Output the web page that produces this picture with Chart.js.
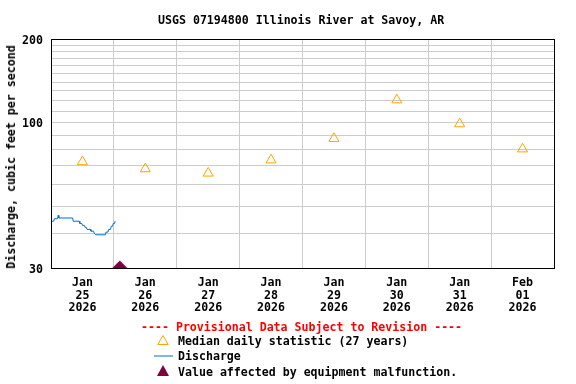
<!DOCTYPE html>
<html>
<head>
<meta charset="utf-8">
<script src="https://cdn.jsdelivr.net/npm/chart.js@4"></script>
<style>
    body { margin: 0; background: #fff; }
    #wrap { position: relative; width: 576px; height: 384px; background: #fff; overflow: hidden; }
    #chart { position: absolute; left: 0; top: 0; }
    .txt { position: absolute; font-family: 'DejaVu Sans Mono', monospace; font-weight: bold; font-size: 11.6px; color: #000; white-space: pre; line-height: 14px; }
    .sym { position: absolute; }
</style>
</head>
<body>
<div id="wrap">
    <canvas id="chart" width="576" height="384"></canvas>
    <div class="txt" style="left:158px;top:13px;">USGS 07194800 Illinois River at Savoy, AR</div>
    <div class="txt" style="left:11px;top:157px;transform:translate(-50%,-50%) rotate(-90deg);">Discharge, cubic feet per second</div>

    <div class="txt" style="left:141px;top:320px;color:#ff0000;">---- Provisional Data Subject to Revision ----</div>
    <svg class="sym" style="left:157px;top:335px;" width="12" height="10"><polygon points="6,0.5 11.2,9.5 0.8,9.5" fill="none" stroke="#ffa500" stroke-width="1"/></svg>
    <div class="txt" style="left:178px;top:334px;">Median daily statistic (27 years)</div>
    <svg class="sym" style="left:154px;top:355px;" width="19" height="2"><line x1="0" y1="1" x2="19" y2="1" stroke="#0070c8" stroke-width="1"/></svg>
    <div class="txt" style="left:178px;top:349px;">Discharge</div>
    <svg class="sym" style="left:157px;top:365px;" width="12" height="11"><polygon points="6,0 12,11 0,11" fill="#800040"/></svg>
    <div class="txt" style="left:178px;top:365px;">Value affected by equipment malfunction.</div>
</div>
<script>
// x axis is hours after Jan 25 2026 00:00
const tickMonths = ['Jan', 'Jan', 'Jan', 'Jan', 'Jan', 'Jan', 'Jan', 'Feb'];
const tickDays = ['25', '26', '27', '28', '29', '30', '31', '01'];
const tickYears = ['2026', '2026', '2026', '2026', '2026', '2026', '2026', '2026'];

// median daily statistic, plotted at noon of each day
const medianHours = [12, 36, 60, 84, 108, 132, 156, 180];
const medianValues = [72.3, 68.2, 65.8, 73.4, 87.7, 120.7, 99.0, 80.4];

// discharge
const dischargeHours = [0, 0.5, 1.0, 1.25, 2.5, 2.75, 3.0, 8.25, 8.5, 10.75, 11.0, 11.75, 12.0, 12.75, 13.0, 13.5,
    13.75, 15.0, 15.25, 16.25, 16.5, 16.75, 17.0, 20.75, 21.0, 21.75, 22.0, 22.75, 23.0, 23.5, 23.75, 24.25, 24.5, 24.75];
const dischargeValues = [43.7, 44.2, 44.2, 45.1, 45.1, 46.4, 45.4, 45.4, 44.2, 44.2, 43.4, 43.4, 42.7, 42.7, 42.0, 42.0,
    41.3, 41.3, 40.7, 40.7, 40.0, 40.0, 39.5, 39.5, 40.4, 40.4, 41.3, 41.3, 42.4, 42.4, 43.4, 43.4, 44.2, 44.2];

// equipment malfunction marker
const malfunctionHours = [26.25];
const malfunctionValues = [30];

const yGridValues = [30, 40, 50, 60, 70, 80, 90, 100, 110, 120, 130, 140, 150, 160, 170, 180, 190, 200];
const yLabelValues = [30, 100, 200];

const tickFont = { family: 'DejaVu Sans Mono', size: 11.6, weight: 'bold', lineHeight: 1.07 };

// flat maroon mound sitting on the axis, as in the USGS plot
function malfunctionMarker() {
    const c = document.createElement('canvas');
    c.width = 16;
    c.height = 16;
    const g = c.getContext('2d');
    g.fillStyle = '#800040';
    g.beginPath();
    g.moveTo(8, 0.5);
    g.lineTo(15.5, 8);
    g.lineTo(0.5, 8);
    g.closePath();
    g.fill();
    return c;
}

const frame = {
    id: 'frame',
    afterDraw(chart) {
        const a = chart.chartArea;
        const ctx = chart.ctx;
        ctx.save();
        ctx.strokeStyle = '#000';
        ctx.lineWidth = 1;
        ctx.strokeRect(Math.round(a.left) + 0.5, Math.round(a.top) + 0.5, Math.round(a.right - a.left), Math.round(a.bottom - a.top));
        ctx.restore();
    }
};

function pairs(xs, ys) {
    return xs.map((x, i) => ({ x: x, y: ys[i] }));
}

new Chart(document.getElementById('chart').getContext('2d'), {
    type: 'line',
    data: {
        datasets: [
            {
                label: 'Median daily statistic (27 years)',
                data: pairs(medianHours, medianValues),
                showLine: false,
                pointStyle: 'triangle',
                pointRadius: 5.8,
                borderColor: '#ffa500',
                backgroundColor: 'rgba(0,0,0,0)',
                borderWidth: 1
            },
            {
                label: 'Discharge',
                data: pairs(dischargeHours, dischargeValues),
                borderColor: '#0070c8',
                borderWidth: 1,
                pointRadius: 0,
                fill: false
            },
            {
                label: 'Value affected by equipment malfunction.',
                data: pairs(malfunctionHours, malfunctionValues),
                showLine: false,
                pointStyle: malfunctionMarker(),
                pointRadius: 8,
                clip: false
            }
        ]
    },
    options: {
        responsive: false,
        animation: false,
        layout: { padding: { top: 39, right: 22, left: 0, bottom: 0 } },
        plugins: { legend: { display: false }, tooltip: { enabled: false } },
        scales: {
            x: {
                type: 'linear',
                min: 0,
                max: 192,
                afterBuildTicks: scale => {
                    const t = [];
                    for (let v = 0; v <= 192; v += 12) t.push({ value: v });
                    scale.ticks = t;
                },
                afterFit: scale => { scale.height = 116; },
                grid: {
                    color: ctx => (ctx.tick && ctx.tick.value % 24 === 0) ? '#cccccc' : 'rgba(0,0,0,0)',
                    drawTicks: false
                },
                border: { color: '#000' },
                ticks: {
                    autoSkip: false,
                    maxRotation: 0,
                    padding: 9,
                    color: '#000',
                    font: tickFont,
                    callback: value => {
                        if (value % 24 !== 12) return '';
                        const i = (value - 12) / 24;
                        return [tickMonths[i], tickDays[i], tickYears[i]];
                    }
                }
            },
            y: {
                type: 'logarithmic',
                min: 30,
                max: 200,
                afterBuildTicks: scale => {
                    scale.ticks = yGridValues.map(v => ({ value: v }));
                },
                afterFit: scale => { scale.width = 51; },
                grid: { color: '#cccccc', drawTicks: false },
                border: { color: '#000' },
                ticks: {
                    autoSkip: false,
                    padding: 8,
                    labelOffset: 1.5,
                    color: '#000',
                    font: tickFont,
                    callback: value => yLabelValues.includes(value) ? String(value) : ''
                }
            }
        }
    },
    plugins: [frame]
});
</script>
</body>
</html>
